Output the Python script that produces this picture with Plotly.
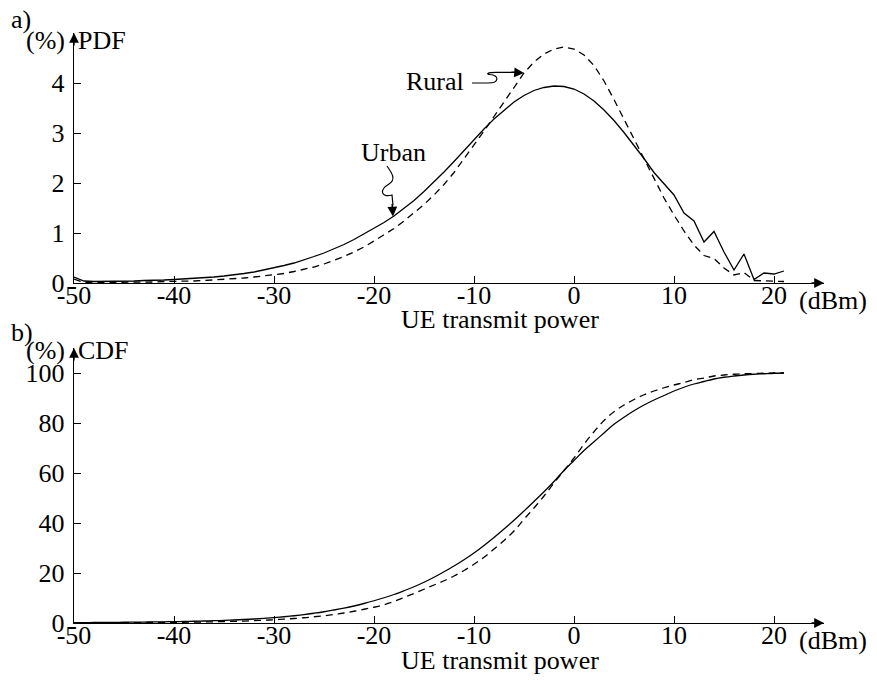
import plotly.graph_objects as go

# ---------------- data ----------------
power_dbm = list(range(-50, 22))  # -50 .. 21 dBm

pdf_urban = [0.12, 0.04, 0.03, 0.03, 0.03, 0.04, 0.04, 0.05, 0.05, 0.06,
             0.07, 0.08, 0.09, 0.10, 0.12, 0.14, 0.16, 0.19, 0.22, 0.26,
             0.30, 0.35, 0.40, 0.46, 0.53, 0.60, 0.68, 0.77, 0.87, 0.98,
             1.09, 1.21, 1.34, 1.49, 1.65, 1.83, 2.02, 2.22, 2.43, 2.65,
             2.87, 3.08, 3.28, 3.46, 3.62, 3.75, 3.85, 3.91, 3.94, 3.93,
             3.88, 3.78, 3.64, 3.46, 3.25, 3.01, 2.76, 2.49, 2.21, 1.98,
             1.76, 1.40, 1.24, 0.82, 1.03, 0.62, 0.26, 0.58, 0.07, 0.20,
             0.18, 0.24]

pdf_rural = [0.08, 0.01, 0.01, 0.01, 0.01, 0.02, 0.02, 0.02, 0.02, 0.03,
             0.03, 0.04, 0.04, 0.05, 0.06, 0.07, 0.08, 0.10, 0.12, 0.14,
             0.16, 0.19, 0.23, 0.27, 0.32, 0.38, 0.45, 0.53, 0.62, 0.72,
             0.84, 0.96, 1.09, 1.24, 1.40, 1.57, 1.76, 1.97, 2.21, 2.48,
             2.76, 3.04, 3.33, 3.62, 3.91, 4.20, 4.42, 4.58, 4.68, 4.72,
             4.68, 4.56, 4.35, 4.04, 3.67, 3.28, 2.88, 2.50, 2.11, 1.70,
             1.36, 1.04, 0.76, 0.55, 0.49, 0.30, 0.16, 0.21, 0.05, 0.04,
             0.04, 0.03]

cdf_urban = [0.10, 0.15, 0.20, 0.22, 0.25, 0.30, 0.33, 0.37, 0.42, 0.48,
             0.55, 0.62, 0.70, 0.80, 0.92, 1.05, 1.20, 1.40, 1.60, 1.85,
             2.15, 2.50, 2.90, 3.35, 3.90, 4.50, 5.20, 5.95, 6.80, 7.80,
             8.90, 10.1, 11.4, 12.9, 14.5, 16.3, 18.3, 20.5, 22.8, 25.3,
             28.0, 31.0, 34.2, 37.6, 41.1, 44.8, 48.6, 52.5, 56.6, 61.0,
             65.0, 69.0, 72.5, 76.0, 79.5, 82.3, 84.9, 87.2, 89.2, 91.0,
             92.8, 94.3, 95.6, 96.6, 97.6, 98.3, 98.8, 99.2, 99.5, 99.7,
             99.9, 100.0]

cdf_rural = [0.05, 0.07, 0.08, 0.10, 0.12, 0.14, 0.16, 0.18, 0.20, 0.23,
             0.26, 0.30, 0.35, 0.41, 0.48, 0.56, 0.66, 0.78, 0.92, 1.10,
             1.30, 1.55, 1.80, 2.10, 2.50, 2.90, 3.40, 4.00, 4.70, 5.50,
             6.30, 7.30, 8.60, 10.2, 11.8, 13.5, 15.2, 16.9, 18.8, 21.0,
             23.5, 26.3, 29.6, 33.0, 36.8, 41.5, 46.0, 50.8, 56.0, 61.0,
             66.0, 71.5, 76.5, 81.0, 84.5, 87.2, 89.4, 91.3, 92.8, 94.1,
             95.2, 96.2, 97.3, 98.0, 98.8, 99.2, 99.5, 99.7, 99.8, 99.9,
             100.0, 100.0]

x_ticks = [-50, -40, -30, -20, -10, 0, 10, 20]
x_ticklabels = ["-50", "-40", "-30", "-20", "-10", "0", "10", "20"]
pdf_ticks = [0, 1, 2, 3, 4]
cdf_ticks = [0, 20, 40, 60, 80, 100]

# ---------------- figure ----------------
W, H = 877, 680
OFF = 8  # the page body adds an 8 px margin around the figure
FONT = "Liberation Serif"
FS = 26


def px(xp):
    return (xp - OFF) / W


def py(yp):
    return 1 - (yp - OFF) / H


fig = go.Figure()
line_solid = dict(color="black", width=1.3)
line_dash = dict(color="black", width=1.3, dash="7px,5px")

fig.add_trace(go.Scatter(x=power_dbm, y=pdf_rural, mode="lines", line=line_dash,
                         xaxis="x", yaxis="y", name="Rural"))
fig.add_trace(go.Scatter(x=power_dbm, y=pdf_urban, mode="lines", line=line_solid,
                         xaxis="x", yaxis="y", name="Urban"))
fig.add_trace(go.Scatter(x=power_dbm, y=cdf_rural, mode="lines", line=line_dash,
                         xaxis="x2", yaxis="y2", name="Rural", line_shape="spline"))
fig.add_trace(go.Scatter(x=power_dbm, y=cdf_urban, mode="lines", line=line_solid,
                         xaxis="x2", yaxis="y2", name="Urban", line_shape="spline"))

xdom = [px(74), px(824)]
tickfont = dict(family=FONT, size=FS, color="black")
common_x = dict(range=[-50, 25], domain=xdom, tickvals=x_ticks, ticktext=x_ticklabels,
                ticks="inside", ticklen=7, tickwidth=1.2, tickcolor="black",
                showline=True, linecolor="black", linewidth=1.4,
                showgrid=False, zeroline=False, automargin=False,
                ticklabelstandoff=-11, tickfont=tickfont)
common_y = dict(ticks="inside", ticklen=7, tickwidth=1.2, tickcolor="black",
                showline=True, linecolor="black", linewidth=1.4,
                showgrid=False, zeroline=False, automargin=False,
                ticklabelstandoff=3, tickfont=tickfont)

fig.update_layout(
    width=W, height=H,
    margin=dict(l=0, r=0, t=0, b=0),
    paper_bgcolor="white", plot_bgcolor="white",
    showlegend=False,
    font=dict(family=FONT, size=FS, color="black"),
    xaxis=dict(anchor="y", **common_x),
    yaxis=dict(anchor="x", domain=[py(283), py(33)], range=[0, 5.0],
               tickvals=pdf_ticks, **common_y),
    xaxis2=dict(anchor="y2", **common_x),
    yaxis2=dict(anchor="x2", domain=[py(623), py(348)], range=[0, 110],
                tickvals=cdf_ticks, **common_y),
)

# ---------- axis arrowheads ----------
arrow_common = dict(text="", showarrow=True, arrowhead=2, arrowsize=1.4,
                    arrowwidth=1.4, arrowcolor="black", standoff=0)
fig.add_annotation(x=25, y=0, xref="x", yref="y", ax=-14, ay=0, **arrow_common)
fig.add_annotation(x=-50, y=5.0, xref="x", yref="y", ax=0, ay=14, **arrow_common)
fig.add_annotation(x=25, y=0, xref="x2", yref="y2", ax=-14, ay=0, **arrow_common)
fig.add_annotation(x=-50, y=110, xref="x2", yref="y2", ax=0, ay=14, **arrow_common)

# ---------- texts ----------
def txt(x, y, s, xanchor="center", yanchor="middle"):
    fig.add_annotation(x=x, y=y, xref="paper", yref="paper", text=s,
                       showarrow=False, xanchor=xanchor, yanchor=yanchor,
                       font=dict(family=FONT, size=FS, color="black"))

txt(px(9), py(3), "a)", xanchor="left", yanchor="top")
txt(px(9), py(332), "b)", xanchor="left")
txt(px(67), py(40), "(%)", xanchor="right")
txt(px(76), py(40), "PDF", xanchor="left")
txt(px(67), py(350), "(%)", xanchor="right")
txt(px(76), py(350), "CDF", xanchor="left")
txt(px(797), py(300), "(dBm)", xanchor="left")
txt(px(797), py(640), "(dBm)", xanchor="left")
txt(px(500), py(320), "UE transmit power")
txt(px(500), py(660), "UE transmit power")

# ---------- curve labels with squiggly arrows ----------
fig.add_annotation(x=-13.9, y=4.02, xref="x", yref="y", text="Rural",
                   showarrow=False, xanchor="center", yanchor="middle",
                   font=dict(family=FONT, size=FS, color="black"))
fig.add_annotation(x=-18.1, y=2.62, xref="x", yref="y", text="Urban",
                   showarrow=False, xanchor="center", yanchor="middle",
                   font=dict(family=FONT, size=FS, color="black"))

fig.add_shape(type="path", xref="x", yref="y",
              path="M -10.2,4.0 L -8.6,4.0 C -7.4,4.0 -7.5,4.16 -8.4,4.17 "
                   "C -8.8,4.18 -8.7,4.214 -7.8,4.214 L -6.0,4.214",
              line=dict(color="black", width=1.2))
fig.add_annotation(x=-5.0, y=4.2, xref="x", yref="y", ax=-14, ay=-1, **arrow_common)

fig.add_shape(type="path", xref="x", yref="y",
              path="M -18.7,2.34 C -18.3,2.22 -17.7,2.08 -18.5,1.98 "
                   "C -19.5,1.86 -19.3,1.70 -18.2,1.76 L -18.1,1.55",
              line=dict(color="black", width=1.2))
fig.add_annotation(x=-18.1, y=1.33, xref="x", yref="y", ax=-1, ay=-14, **arrow_common)

fig.write_html("out.html")
